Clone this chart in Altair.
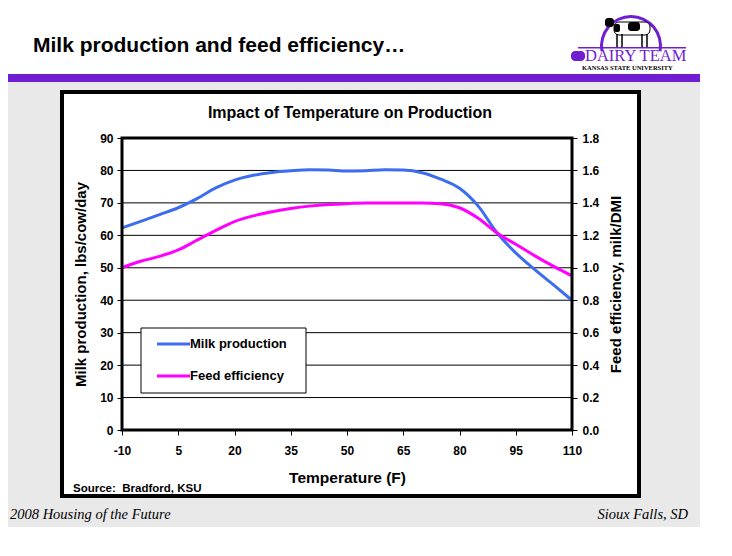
import altair as alt
import pandas as pd

# ---------------- data ----------------
temperature = [-10, -5, 0, 5, 10, 15, 20, 25, 30, 35, 40, 45, 50, 55, 60, 65, 70, 75, 80, 85, 90, 95, 100, 105, 110]
milk_production = [62.3, 64.3, 66.4, 68.5, 71.3, 74.6, 77.0, 78.5, 79.4, 79.9, 80.2, 80.1, 79.8, 79.9, 80.2, 80.1,
                   79.3, 77.3, 74.5, 69.0, 60.8, 54.6, 49.5, 44.8, 40.0]
feed_efficiency = [1.00, 1.04, 1.07, 1.11, 1.17, 1.23, 1.285, 1.32, 1.345, 1.365, 1.38, 1.39, 1.395, 1.40, 1.40,
                   1.40, 1.40, 1.395, 1.37, 1.305, 1.215, 1.145, 1.075, 1.01, 0.95]
x_ticks = [-10, 5, 20, 35, 50, 65, 80, 95, 110]
milk_ticks = [0, 10, 20, 30, 40, 50, 60, 70, 80, 90]
feed_ticks = [0.0, 0.2, 0.4, 0.6, 0.8, 1.0, 1.2, 1.4, 1.6, 1.8]
grid_values = [10, 20, 30, 40, 50, 60, 70, 80]
series_names = ["Milk production", "Feed efficiency"]
series_colors = ["#3c6cf0", "#ff00ff"]

slide_title = "Milk production and feed efficiency\u2026"
chart_title = "Impact of Temperature on Production"
source_text = "Source:\u00a0\u00a0Bradford, KSU"
footer_left = "2008 Housing of the Future"
footer_right = "Sioux Falls, SD"

df = pd.DataFrame({"temperature": temperature, "milk": milk_production, "feed": feed_efficiency})
grid_df = pd.DataFrame({"g": grid_values})

# ---------------- layout helpers ----------------
W, H = 450, 292
PX0, PY0 = 122, 138  # page position of plot origin
PURPLE = "#701ed2"
SANS = "Liberation Sans"
SERIF = "Liberation Serif"
one = pd.DataFrame({"a": [0]})


def X(px):
    return px - PX0


def Y(py):
    return py - PY0


def box(x1, y1, x2, y2, **kw):
    return alt.Chart(one).mark_rect(**kw).encode(
        x=alt.value(X(x1)), x2=alt.value(X(x2)), y=alt.value(Y(y1)), y2=alt.value(Y(y2)))


def label(txt, px, py, **kw):
    return alt.Chart(one).mark_text(text=txt, **kw).encode(x=alt.value(X(px)), y=alt.value(Y(py)))


def hline(x1, x2, py, color, width):
    return alt.Chart(one).mark_rule(color=color, strokeWidth=width).encode(
        x=alt.value(X(x1)), x2=alt.value(X(x2)), y=alt.value(Y(py)))


def vline(px, y1, y2, color, width):
    return alt.Chart(one).mark_rule(color=color, strokeWidth=width).encode(
        x=alt.value(X(px)), y=alt.value(Y(y1)), y2=alt.value(Y(y2)))


# ---------------- decorations ----------------
bg_gray = box(2, 82, 700, 527, fill="#e9e9e9")
purple_bar = box(2, 74, 700, 82, fill=PURPLE)
white_box = box(62, 92, 639, 496, fill="white", stroke="black", strokeWidth=4)
title_txt = label(slide_title, 33, 52, font=SANS, fontSize=21, fontWeight="bold", align="left",
                  baseline="alphabetic", color="black")

# logo
logo_arc = alt.Chart(one).mark_arc(color=PURPLE, radius=31, radius2=28, theta=4.54, theta2=8.03).encode(
    x=alt.value(X(631)), y=alt.value(Y(46)))
logo_line = box(578, 47, 686, 48.5, fill=PURPLE)
cow_body = box(614, 22, 650, 35, fill="white", stroke="black", strokeWidth=1, cornerRadius=5)
cow_patch1 = box(628, 22, 640, 31, fill="black", cornerRadius=3)
cow_patch2 = box(614, 24, 620, 32, fill="black", cornerRadius=2)
cow_head = box(605, 18, 614, 27, fill="black", cornerRadius=3)
cow_legs = [vline(x, 34, 47, "black", 1.5) for x in (617, 622, 642, 647)]
logo_cat = box(571, 51, 585, 61, fill=PURPLE, cornerRadius=4)
logo_text = label("DAIRY TEAM", 585, 61, font=SERIF, fontSize=16.5, align="left", baseline="alphabetic",
                  color=PURPLE)
logo_ksu = label("KANSAS STATE UNIVERSITY", 582, 70, font=SERIF, fontSize=6.5, fontWeight="bold",
                 align="left", baseline="alphabetic", color="black")

foot_l = label(footer_left, 10, 519, font=SERIF, fontSize=14.5, fontStyle="italic", align="left",
               baseline="alphabetic", color="black")
foot_r = label(footer_right, 688, 519, font=SERIF, fontSize=14.5, fontStyle="italic", align="right",
               baseline="alphabetic", color="black")
ctitle = label(chart_title, 350, 113, font=SANS, fontSize=16, fontWeight="bold", align="center",
               baseline="middle", color="black")
src = label(source_text, 73, 492, font=SANS, fontSize=11.5, fontWeight="bold", align="left",
            baseline="alphabetic", color="black")

# ---------------- data layers ----------------
x_axis = alt.Axis(values=x_ticks, title="Temperature (F)", titlePadding=14, labelPadding=10, tickSize=5,
                  grid=False, domain=False, labelFlush=False, zindex=3, titleFontSize=15.5,
                  labelExpr="replace(datum.label, '\u2212', '-')")
x_enc = alt.X("temperature:Q", scale=alt.Scale(domain=[-10, 110], nice=False, zero=False), axis=x_axis)

grid = alt.Chart(grid_df).mark_rule(color="black", strokeWidth=1).encode(
    y=alt.Y("g:Q", scale=alt.Scale(domain=[0, 90], nice=False), axis=None),
    x=alt.value(0), x2=alt.value(W))

milk_line = alt.Chart(df).mark_line(color=series_colors[0], strokeWidth=3, interpolate="monotone").encode(
    x=x_enc,
    y=alt.Y("milk:Q", scale=alt.Scale(domain=[0, 90], nice=False),
            axis=alt.Axis(orient="left", values=milk_ticks, title="Milk production, lbs/cow/day",
                          titlePadding=11, labelPadding=4, tickSize=5, grid=False, domain=False,
                          labelFlush=False, zindex=3)))

feed_line = alt.Chart(df).mark_line(color=series_colors[1], strokeWidth=3, interpolate="monotone").encode(
    x=x_enc,
    y=alt.Y("feed:Q", scale=alt.Scale(domain=[0, 1.8], nice=False),
            axis=alt.Axis(orient="right", values=feed_ticks, format=".1f", title="Feed efficiency, milk/DMI",
                          titlePadding=10, labelPadding=5, tickSize=5, grid=False, domain=False,
                          titleAngle=270, titleBaseline="top", labelFlush=False, zindex=3)))

frame = alt.Chart(one).mark_rect(fillOpacity=0, stroke="black", strokeWidth=3).encode(
    x=alt.value(0), x2=alt.value(W), y=alt.value(0), y2=alt.value(H))

# legend (manual)
leg_box = box(141, 328, 306, 393, fill="white", stroke="black", strokeWidth=1)
leg_rows = [344, 376]
leg_items = []
for name, color, py in zip(series_names, series_colors, leg_rows):
    leg_items.append(hline(157, 190, py, color, 3))
    leg_items.append(label(name, 190, py, font=SANS, fontSize=13, fontWeight="bold", align="left",
                           baseline="middle", color="black"))

chart = alt.layer(
    bg_gray, purple_bar, white_box, title_txt,
    logo_arc, logo_line, cow_body, cow_patch1, cow_patch2, cow_head, *cow_legs, logo_cat, logo_text, logo_ksu,
    foot_l, foot_r, ctitle, src,
    grid, milk_line, feed_line, frame,
    leg_box, *leg_items,
).resolve_scale(y="independent").properties(
    width=W, height=H,
    autosize=alt.AutoSizeParams(type="none"),
    padding={"left": 114, "top": 130, "right": 152, "bottom": 118},
    background="white",
).configure_view(stroke=None).configure_axis(
    labelFont=SANS, labelFontSize=12, labelFontWeight="bold", labelColor="black",
    titleFont=SANS, titleFontSize=15, titleFontWeight="bold", titleColor="black",
    tickColor="black", tickWidth=1,
)

chart.save("out.html", embed_options={"renderer": "svg", "actions": False})
